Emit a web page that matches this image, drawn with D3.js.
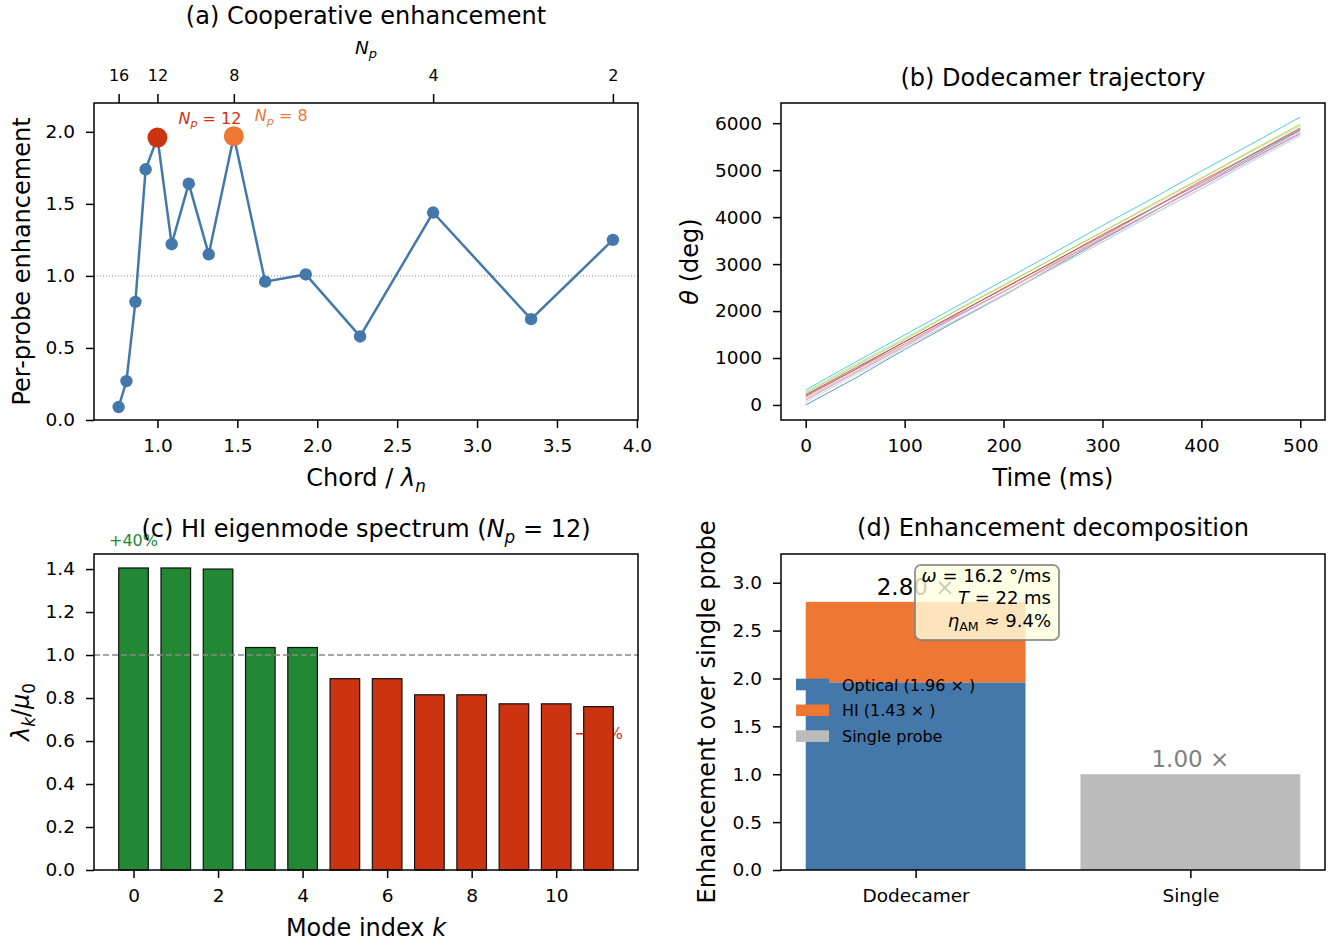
<!DOCTYPE html>
<html lang="en">
<head>
<meta charset="UTF-8">
<title>Dodecamer enhancement</title>
<style>
  body { margin: 0; background: #fff; }
  svg { font-family: "DejaVu Sans", sans-serif; }
</style>
</head>
<body>
<svg id="fig" width="1335" height="946"></svg>
<script src="https://cdnjs.cloudflare.com/ajax/libs/d3/7.8.5/d3.min.js"></script>
<script>
// ---- (a) cooperative enhancement ----
const probeCount = [16, 15, 14, 13, 12, 11, 10, 9, 8, 7, 6, 5, 4, 3, 2];
const chordRatio = [0.757, 0.806, 0.862, 0.926, 1.0, 1.089, 1.196, 1.321, 1.478, 1.674, 1.928, 2.268, 2.725, 3.338, 3.850];
const perProbe = [0.09, 0.27, 0.82, 1.74, 1.96, 1.22, 1.64, 1.15, 1.97, 0.96, 1.01, 0.58, 1.44, 0.70, 1.25];
const npTickLabels = [16, 12, 8, 4, 2];
const npTickChord = [0.757, 1.0, 1.478, 2.725, 3.850];

// ---- (b) dodecamer trajectory (12 probes) ----
const trajTime = [0, 50, 100, 150, 200, 250, 300, 350, 400, 450, 500];
const trajAngle = [
  [0, 570, 1180, 1760, 2330, 2930, 3520, 4100, 4690, 5270, 5850],
  [120, 670, 1230, 1790, 2350, 2900, 3470, 4040, 4600, 5170, 5730],
  [150, 720, 1270, 1850, 2400, 2960, 3530, 4110, 4680, 5240, 5800],
  [280, 860, 1420, 1990, 2560, 3110, 3690, 4240, 4820, 5390, 5950],
  [200, 760, 1350, 1900, 2490, 3040, 3630, 4180, 4770, 5320, 5900],
  [180, 750, 1300, 1870, 2420, 2990, 3540, 4110, 4660, 5230, 5780],
  [220, 790, 1340, 1920, 2470, 3050, 3600, 4180, 4730, 5310, 5870],
  [100, 690, 1250, 1850, 2410, 3010, 3570, 4170, 4730, 5330, 5900],
  [140, 700, 1290, 1840, 2420, 2970, 3560, 4110, 4690, 5250, 5820],
  [60, 640, 1190, 1780, 2330, 2920, 3470, 4060, 4610, 5200, 5760],
  [250, 830, 1390, 1980, 2540, 3120, 3680, 4270, 4830, 5410, 5980],
  [320, 910, 1490, 2070, 2650, 3230, 3820, 4390, 4980, 5550, 6130]
];

// ---- (c) HI eigenmode spectrum ----
const modeIndex = [0, 1, 2, 3, 4, 5, 6, 7, 8, 9, 10, 11];
const eigenRatio = [1.405, 1.405, 1.400, 1.035, 1.035, 0.890, 0.890, 0.815, 0.815, 0.773, 0.773, 0.760];
const extremeLabels = ["+40%", "−24%"];

// ---- (d) enhancement decomposition ----
const decompCats = ["Dodecamer", "Single"];
const opticalPart = [1.96, 0];
const hiPart = [0.84, 0];
const singlePart = [0, 1.00];
const totalLabel = ["2.80", "1.00"];

const BLUE = "#4477aa", ORANGE = "#ee7733", RED = "#cc3311", GREEN = "#228833", GREY = "#bbbbbb";
const trajColors = ["#1f77b4", "#aec7e8", "#ffbb78", "#98df8a", "#d62728", "#9467bd",
                    "#8c564b", "#c49c94", "#f7b6d2", "#c7c7c7", "#bcbd22", "#17becf"];
const TICK = 18.5, LABEL = 24, SMALL = 16;

const svg = d3.select("#fig");
const P = {
  a: {l: 94, r: 638, t: 103, b: 420},
  b: {l: 781, r: 1325, t: 103, b: 420},
  c: {l: 94, r: 638, t: 554, b: 870},
  d: {l: 781, r: 1325, t: 554, b: 870}
};

// mathtext-ish: segments with italic / subscript
function rich(sel, segs) {
  const fs = parseFloat(sel.attr("font-size"));
  let shift = 0;
  segs.forEach(s => {
    const want = s.sub ? 0.24 : 0;
    const ts = sel.append("tspan").text(s.t);
    const dy = (want - shift) * fs;
    if (dy !== 0) ts.attr("dy", dy);
    shift = want;
    if (s.sub) ts.attr("font-size", fs * 0.7);
    if (s.i) ts.attr("font-style", "italic");
  });
  return sel;
}

function styleAxis(g) {
  g.select(".domain").remove();
  g.selectAll(".tick line").attr("stroke", "#000").attr("stroke-width", 1.5);
  g.selectAll(".tick text").attr("font-size", TICK).attr("fill", "#000")
    .attr("font-family", "DejaVu Sans");
}

function frame(p) {
  svg.append("rect").attr("x", p.l).attr("y", p.t)
    .attr("width", p.r - p.l).attr("height", p.b - p.t)
    .attr("fill", "none").attr("stroke", "#000").attr("stroke-width", 1.5);
}

function title(p, y, segs) {
  rich(svg.append("text").attr("x", (p.l + p.r) / 2).attr("y", y)
    .attr("text-anchor", "middle").attr("font-size", LABEL), segs);
}

function ylabel(p, x, segs) {
  const cy = (p.t + p.b) / 2;
  rich(svg.append("text").attr("transform", `translate(${x},${cy}) rotate(-90)`)
    .attr("text-anchor", "middle").attr("font-size", LABEL), segs);
}

// ================= (a) =================
{
  const p = P.a;
  const x = d3.scaleLinear().domain([0.603, 4.007]).range([p.l, p.r]);
  const y = d3.scaleLinear().domain([0, 2.2]).range([p.b, p.t]);

  svg.append("g").attr("transform", `translate(0,${p.b})`)
    .call(d3.axisBottom(x).tickValues([1, 1.5, 2, 2.5, 3, 3.5, 4]).tickFormat(d3.format(".1f"))
      .tickSize(8).tickPadding(11)).call(styleAxis);
  svg.append("g").attr("transform", `translate(${p.l},0)`)
    .call(d3.axisLeft(y).tickValues([0, 0.5, 1, 1.5, 2]).tickFormat(d3.format(".1f"))
      .tickSize(8).tickPadding(11)).call(styleAxis);
  const top = svg.append("g").attr("transform", `translate(0,${p.t})`)
    .call(d3.axisTop(x).tickValues(npTickChord).tickFormat((d, i) => npTickLabels[i])
      .tickSize(9).tickPadding(13)).call(styleAxis);
  top.selectAll(".tick text").attr("font-size", SMALL);

  svg.append("line").attr("x1", p.l).attr("x2", p.r).attr("y1", y(1)).attr("y2", y(1))
    .attr("stroke", "#888").attr("stroke-width", 1).attr("stroke-dasharray", "1,2");

  const line = d3.line().x((d, i) => x(chordRatio[i])).y(d => y(d));
  svg.append("path").datum(perProbe).attr("d", line)
    .attr("fill", "none").attr("stroke", BLUE).attr("stroke-width", 2.5);
  svg.append("g").selectAll("circle").data(perProbe).join("circle")
    .attr("cx", (d, i) => x(chordRatio[i])).attr("cy", d => y(d)).attr("r", 6.2)
    .attr("fill", BLUE);

  const hi = [{np: 12, c: RED, dy: -14}, {np: 8, c: ORANGE, dy: -15}];
  hi.forEach(h => {
    const i = probeCount.indexOf(h.np);
    svg.append("circle").attr("cx", x(chordRatio[i])).attr("cy", y(perProbe[i]))
      .attr("r", 10).attr("fill", h.c);
    rich(svg.append("text").attr("x", x(chordRatio[i]) + 21).attr("y", y(perProbe[i]) + h.dy)
      .attr("font-size", SMALL).attr("fill", h.c),
      [{t: "N", i: true}, {t: "p", i: true, sub: true}, {t: " = " + h.np}]);
  });

  frame(p);
  title(p, 24, [{t: "(a) Cooperative enhancement"}]);
  rich(svg.append("text").attr("x", (p.l + p.r) / 2).attr("y", 54)
    .attr("text-anchor", "middle").attr("font-size", TICK),
    [{t: "N", i: true}, {t: "p", i: true, sub: true}]);
  rich(svg.append("text").attr("x", (p.l + p.r) / 2).attr("y", 486)
    .attr("text-anchor", "middle").attr("font-size", LABEL),
    [{t: "Chord / "}, {t: "λ", i: true}, {t: "n", i: true, sub: true}]);
  ylabel(p, 30, [{t: "Per-probe enhancement"}]);
}

// ================= (b) =================
{
  const p = P.b;
  const x = d3.scaleLinear().domain([-25, 525]).range([p.l, p.r]);
  const y = d3.scaleLinear().domain([-320, 6430]).range([p.b, p.t]);

  svg.append("g").attr("transform", `translate(0,${p.b})`)
    .call(d3.axisBottom(x).tickValues([0, 100, 200, 300, 400, 500])
      .tickSize(8).tickPadding(11)).call(styleAxis);
  svg.append("g").attr("transform", `translate(${p.l},0)`)
    .call(d3.axisLeft(y).tickValues([0, 1000, 2000, 3000, 4000, 5000, 6000]).tickFormat(d3.format("d"))
      .tickSize(8).tickPadding(11)).call(styleAxis);

  const line = d3.line().x((d, i) => x(trajTime[i])).y(d => y(d));
  svg.append("g").selectAll("path").data(trajAngle).join("path")
    .attr("d", line).attr("fill", "none")
    .attr("stroke", (d, i) => trajColors[i]).attr("stroke-width", 1).attr("stroke-opacity", 0.75);

  frame(p);
  title(p, 86, [{t: "(b) Dodecamer trajectory"}]);
  rich(svg.append("text").attr("x", (p.l + p.r) / 2).attr("y", 486)
    .attr("text-anchor", "middle").attr("font-size", LABEL), [{t: "Time (ms)"}]);
  ylabel(p, 698, [{t: "θ", i: true}, {t: " (deg)"}]);
}

// ================= (c) =================
{
  const p = P.c;
  const x = d3.scaleLinear().domain([-0.935, 11.935]).range([p.l, p.r]);
  const y = d3.scaleLinear().domain([0, 1.47]).range([p.b, p.t]);
  const bw = x(0.7) - x(0);

  svg.append("g").attr("transform", `translate(0,${p.b})`)
    .call(d3.axisBottom(x).tickValues([0, 2, 4, 6, 8, 10])
      .tickSize(8).tickPadding(11)).call(styleAxis);
  svg.append("g").attr("transform", `translate(${p.l},0)`)
    .call(d3.axisLeft(y).tickValues([0, 0.2, 0.4, 0.6, 0.8, 1.0, 1.2, 1.4]).tickFormat(d3.format(".1f"))
      .tickSize(8).tickPadding(11)).call(styleAxis);

  // label of the weakest mode sits behind the bars
  const last = modeIndex.length - 1;
  svg.append("text").attr("x", x(modeIndex[last])).attr("y", y(eigenRatio[last] - 0.15))
    .attr("text-anchor", "middle").attr("font-size", SMALL).attr("fill", RED)
    .text(extremeLabels[1]);

  svg.append("g").selectAll("rect").data(eigenRatio).join("rect")
    .attr("x", (d, i) => x(modeIndex[i]) - bw / 2).attr("width", bw)
    .attr("y", d => y(d)).attr("height", d => y(0) - y(d))
    .attr("fill", d => d > 1 ? GREEN : RED)
    .attr("stroke", "#111").attr("stroke-width", 1.2);

  svg.append("line").attr("x1", p.l).attr("x2", p.r).attr("y1", y(1)).attr("y2", y(1))
    .attr("stroke", "#888").attr("stroke-width", 1.5).attr("stroke-dasharray", "6,3");

  svg.append("text").attr("x", x(modeIndex[0])).attr("y", y(eigenRatio[0] + 0.1))
    .attr("text-anchor", "middle").attr("font-size", SMALL).attr("fill", GREEN)
    .text(extremeLabels[0]);

  frame(p);
  title(p, 537, [{t: "(c) HI eigenmode spectrum ("}, {t: "N", i: true}, {t: "p", i: true, sub: true}, {t: " = 12)"}]);
  rich(svg.append("text").attr("x", (p.l + p.r) / 2).attr("y", 936)
    .attr("text-anchor", "middle").attr("font-size", LABEL),
    [{t: "Mode index "}, {t: "k", i: true}]);
  ylabel(p, 29, [{t: "λ", i: true}, {t: "k", i: true, sub: true}, {t: "/"}, {t: "μ", i: true}, {t: "0", sub: true}]);
}

// ================= (d) =================
{
  const p = P.d;
  const x = d3.scaleLinear().domain([-0.49, 1.49]).range([p.l, p.r]);
  const y = d3.scaleLinear().domain([0, 3.3]).range([p.b, p.t]);
  const bw = x(0.8) - x(0);

  svg.append("g").attr("transform", `translate(0,${p.b})`)
    .call(d3.axisBottom(x).tickValues([0, 1]).tickFormat((d, i) => decompCats[i])
      .tickSize(8).tickPadding(11)).call(styleAxis);
  svg.append("g").attr("transform", `translate(${p.l},0)`)
    .call(d3.axisLeft(y).tickValues([0, 0.5, 1, 1.5, 2, 2.5, 3]).tickFormat(d3.format(".1f"))
      .tickSize(8).tickPadding(11)).call(styleAxis);

  const g = svg.append("g");
  decompCats.forEach((c, i) => {
    const bx = x(i) - bw / 2;
    if (opticalPart[i] > 0)
      g.append("rect").attr("x", bx).attr("width", bw).attr("y", y(opticalPart[i]))
        .attr("height", y(0) - y(opticalPart[i])).attr("fill", BLUE);
    if (hiPart[i] > 0)
      g.append("rect").attr("x", bx).attr("width", bw).attr("y", y(opticalPart[i] + hiPart[i]))
        .attr("height", y(opticalPart[i]) - y(opticalPart[i] + hiPart[i])).attr("fill", ORANGE);
    if (singlePart[i] > 0)
      g.append("rect").attr("x", bx).attr("width", bw).attr("y", y(singlePart[i]))
        .attr("height", y(0) - y(singlePart[i])).attr("fill", GREY);
    const tot = opticalPart[i] + hiPart[i] + singlePart[i];
    svg.append("text").attr("x", x(i)).attr("y", y(tot) - 7)
      .attr("text-anchor", "middle").attr("font-size", 23)
      .attr("fill", i === 0 ? "#000" : "#808080")
      .text(totalLabel[i] + " ×");
  });

  // legend
  const leg = [
    {c: BLUE, t: "Optical (1.96 × )"},
    {c: ORANGE, t: "HI (1.43 × )"},
    {c: GREY, t: "Single probe"}
  ];
  leg.forEach((e, i) => {
    const cy = 684.5 + i * 25.8;
    svg.append("rect").attr("x", 796).attr("y", cy - 5.8).attr("width", 33).attr("height", 11.6)
      .attr("fill", e.c);
    svg.append("text").attr("x", 842).attr("y", cy + 6).attr("font-size", SMALL).text(e.t);
  });

  // parameter box
  svg.append("rect").attr("x", 915).attr("y", 565).attr("width", 144).attr("height", 75)
    .attr("rx", 6).attr("fill", "#ffffe0").attr("fill-opacity", 0.8)
    .attr("stroke", "#808080").attr("stroke-opacity", 0.8).attr("stroke-width", 2);
  const box = [
    {yb: 582, s: [{t: "ω", i: true}, {t: " = 16.2 °/ms"}]},
    {yb: 604, s: [{t: "T", i: true}, {t: " = 22 ms"}]},
    {yb: 627, s: [{t: "η", i: true}, {t: "AM", sub: true}, {t: " ≈ 9.4%"}]}
  ];
  box.forEach(b => rich(svg.append("text").attr("x", 1051).attr("y", b.yb)
    .attr("text-anchor", "end").attr("font-size", 18), b.s));

  frame(p);
  title(p, 536, [{t: "(d) Enhancement decomposition"}]);
  ylabel(p, 715, [{t: "Enhancement over single probe"}]);
}
</script>
</body>
</html>
